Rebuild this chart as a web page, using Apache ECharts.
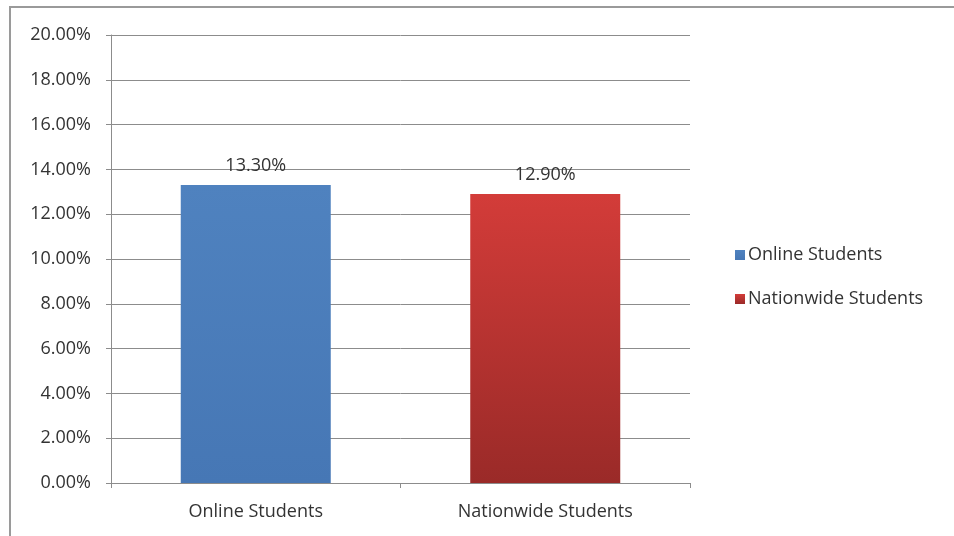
<!DOCTYPE html>
<html>
<head>
<meta charset="utf-8">
<script src="https://cdn.jsdelivr.net/npm/echarts@6/dist/echarts.min.js"></script>
<style>
html,body{margin:0;padding:0;background:#fff;}
#chart{width:954px;height:536px;}
</style>
</head>
<body>
<div id="chart"></div>
<script>
const categories = ['Online Students', 'Nationwide Students'];
const seriesNames = ['Online Students', 'Nationwide Students'];
const onlineValues = [13.3, null];
const nationwideValues = [null, 12.9];
const yMin = 0, yMax = 20, yInterval = 2;

const FONT = 'Open Sans';
const TXT = '#333333';
const FS = 18;
const chart = echarts.init(document.getElementById('chart'));
chart.setOption({
  animation: false,
  backgroundColor: '#fff',
  textStyle: { fontFamily: FONT },
  graphic: [
    { type: 'line', shape: { x1: 9, y1: 7, x2: 954, y2: 7 }, style: { stroke: '#9a9a9a', lineWidth: 2 } },
    { type: 'line', shape: { x1: 10, y1: 7, x2: 10, y2: 536 }, style: { stroke: '#9a9a9a', lineWidth: 2 } }
  ],
  grid: { left: 111, right: 264, top: 35, bottom: 53 },
  legend: {
    orient: 'vertical',
    left: 730,
    top: 241,
    itemWidth: 10,
    itemHeight: 10,
    itemGap: 26,
    icon: 'rect',
    textStyle: { fontFamily: FONT, fontSize: FS, color: TXT, padding: [0,0,0,-2] },
    data: seriesNames
  },
  xAxis: {
    type: 'category',
    data: categories,
    axisLine: { lineStyle: { color: '#8c8c8c', width: 1 } },
    axisTick: { show: true, length: 5, lineStyle: { color: '#8c8c8c' } },
    axisLabel: { fontFamily: FONT, fontSize: FS, color: TXT, margin: 20 }
  },
  yAxis: {
    type: 'value',
    min: yMin, max: yMax, interval: yInterval,
    axisLine: { show: true, lineStyle: { color: '#8c8c8c' } },
    axisTick: { show: true, length: 5, lineStyle: { color: '#8c8c8c' } },
    splitLine: { lineStyle: { color: '#8c8c8c', width: 1 } },
    axisLabel: { fontFamily: FONT, fontSize: FS, color: TXT, margin: 20,
      formatter: v => v.toFixed(2) + '%' }
  },
  series: [
    {
      name: seriesNames[0], type: 'bar', data: onlineValues,
      barWidth: 150, barGap: '-100%',
      itemStyle: { color: new echarts.graphic.LinearGradient(0,0,0,1,[{offset:0,color:'#4f82bf'},{offset:1,color:'#4677b5'}]) },
      label: { show: true, position: 'top', distance: 10, fontFamily: FONT, fontSize: FS, color: TXT,
        formatter: p => p.value.toFixed(2) + '%' }
    },
    {
      name: seriesNames[1], type: 'bar', data: nationwideValues,
      barWidth: 150, barGap: '-100%',
      itemStyle: { color: new echarts.graphic.LinearGradient(0,0,0,1,[{offset:0,color:'#d33c39'},{offset:1,color:'#9a2a28'}]) },
      label: { show: true, position: 'top', distance: 10, fontFamily: FONT, fontSize: FS, color: TXT,
        formatter: p => p.value.toFixed(2) + '%' }
    }
  ]
});
</script>
</body>
</html>
